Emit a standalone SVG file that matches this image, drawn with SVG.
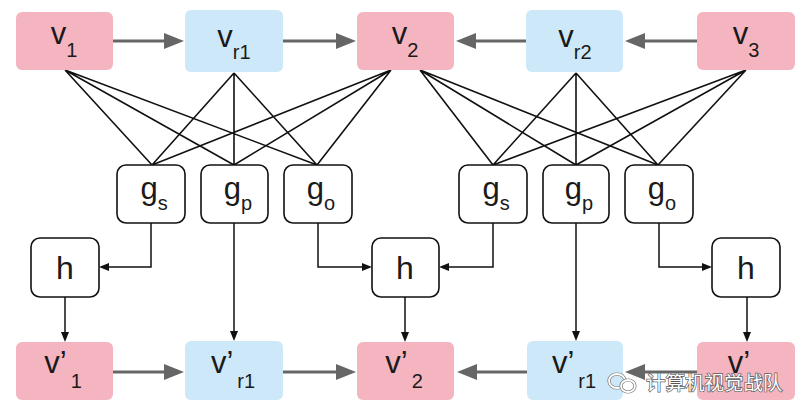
<svg xmlns="http://www.w3.org/2000/svg" width="808" height="416" viewBox="0 0 808 416">
<defs>
<style>
.pink{fill:#f4b4c0}
.blue{fill:#cde8f8}
.g{fill:#fff;stroke:#111;stroke-width:1.6}
.lbl{font-family:"Liberation Sans",Arial,sans-serif;font-size:31px;fill:#1a1a1a;text-anchor:middle}
.sub{font-size:20px}
.gsub{font-size:20px}
.fan{stroke:#111;stroke-width:1.6;fill:none}
.garrow{stroke:#666;stroke-width:3;fill:none;marker-end:url(#ga)}
.barrow{stroke:#111;stroke-width:1.5;fill:none;marker-end:url(#ba)}
.wm{font-family:"Noto Sans CJK SC","Liberation Sans",sans-serif;font-size:19.5px;fill:#fff;stroke:#5a5a5a;stroke-width:1.4;paint-order:stroke}
</style>
<marker id="ga" viewBox="0 0 20 16" refX="10" refY="8" markerWidth="20" markerHeight="16" markerUnits="userSpaceOnUse" orient="auto">
<path d="M0,0 L20,8 L0,16 z" fill="#666"/>
</marker>
<marker id="ba" viewBox="0 0 10 8" refX="5" refY="4" markerWidth="10" markerHeight="8" markerUnits="userSpaceOnUse" orient="auto">
<path d="M0,0 L10,4 L0,8 z" fill="#111"/>
</marker>
</defs>
<rect width="808" height="416" fill="#fff"/>

<g id="connectors">
<line class="garrow" x1="113" y1="41" x2="174" y2="41"/>
<line class="garrow" x1="283" y1="41" x2="346" y2="41"/>
<line class="garrow" x1="526" y1="41" x2="466" y2="41"/>
<line class="garrow" x1="697" y1="41" x2="635" y2="41"/>
<line class="garrow" x1="113" y1="372" x2="174" y2="372"/>
<line class="garrow" x1="283" y1="372" x2="346" y2="372"/>
<line class="garrow" x1="527" y1="372" x2="467" y2="372"/>
<line class="garrow" x1="697" y1="372" x2="635" y2="372"/>
<path class="fan" d="M65,70 L152,165 M65,70 L234,165 M65,70 L317,165 M234,73 L152,165 M234,73 L234,165 M234,73 L317,165 M391,70 L152,165 M391,70 L234,165 M391,70 L317,165"/>
<path class="fan" d="M420,70 L493,165 M420,70 L576,165 M420,70 L658,165 M576,73 L493,165 M576,73 L576,165 M576,73 L658,165 M746,70 L493,165 M746,70 L576,165 M746,70 L658,165"/>
<path class="barrow" d="M151,223 V267 H104"/>
<path class="barrow" d="M318,223 V267 H367"/>
<path class="barrow" d="M493,223 V267 H444"/>
<path class="barrow" d="M659,223 V267 H707"/>
<line class="barrow" x1="234" y1="223" x2="234" y2="336"/>
<line class="barrow" x1="576" y1="223" x2="576" y2="336"/>
<line class="barrow" x1="65" y1="297" x2="65" y2="337"/>
<line class="barrow" x1="405" y1="297" x2="405" y2="337"/>
<line class="barrow" x1="747" y1="297" x2="747" y2="337"/>
</g>

<g id="v1"><rect class="pink" x="16" y="12" width="97" height="58" rx="6"/><text class="lbl" x="64" y="44">v<tspan class="sub" dy="13">1</tspan></text></g>
<g id="vr1"><rect class="blue" x="185" y="10" width="98" height="62" rx="6"/><text class="lbl" x="234" y="47">v<tspan class="sub" dy="12">r1</tspan></text></g>
<g id="v2"><rect class="pink" x="357" y="12" width="97" height="58" rx="6"/><text class="lbl" x="405" y="44">v<tspan class="sub" dy="13">2</tspan></text></g>
<g id="vr2"><rect class="blue" x="526" y="10" width="97" height="62" rx="6"/><text class="lbl" x="575" y="47">v<tspan class="sub" dy="12">r2</tspan></text></g>
<g id="v3"><rect class="pink" x="697" y="12" width="98" height="58" rx="6"/><text class="lbl" x="746" y="44">v<tspan class="sub" dy="13">3</tspan></text></g>

<g id="gs1"><rect class="g" x="117" y="165" width="68" height="58" rx="9"/><text class="lbl" x="154" y="199">g<tspan class="gsub" dy="11">s</tspan></text></g>
<g id="gp1"><rect class="g" x="201" y="165" width="67" height="58" rx="9"/><text class="lbl" x="238" y="199">g<tspan class="gsub" dy="11">p</tspan></text></g>
<g id="go1"><rect class="g" x="284" y="165" width="68" height="58" rx="9"/><text class="lbl" x="321" y="199">g<tspan class="gsub" dy="11">o</tspan></text></g>
<g id="gs2"><rect class="g" x="459" y="165" width="68" height="58" rx="9"/><text class="lbl" x="496" y="199">g<tspan class="gsub" dy="11">s</tspan></text></g>
<g id="gp2"><rect class="g" x="543" y="165" width="66" height="58" rx="9"/><text class="lbl" x="579" y="199">g<tspan class="gsub" dy="11">p</tspan></text></g>
<g id="go2"><rect class="g" x="625" y="165" width="68" height="58" rx="9"/><text class="lbl" x="662" y="199">g<tspan class="gsub" dy="11">o</tspan></text></g>

<g id="h1"><rect class="g" x="31" y="238" width="68" height="59" rx="9"/><text class="lbl" x="65" y="279" style="font-size:32px">h</text></g>
<g id="h2"><rect class="g" x="372" y="238" width="67" height="59" rx="9"/><text class="lbl" x="405" y="279" style="font-size:32px">h</text></g>
<g id="h3"><rect class="g" x="712" y="238" width="68" height="59" rx="9"/><text class="lbl" x="746" y="279" style="font-size:32px">h</text></g>

<g id="vp1"><rect class="pink" x="16" y="342" width="97" height="58" rx="6"/><text class="lbl" x="63" y="373">v’<tspan class="sub" dx="4" dy="15">1</tspan></text></g>
<g id="vpr1"><rect class="blue" x="185" y="341" width="98" height="59" rx="6"/><text class="lbl" x="233" y="373">v’<tspan class="sub" dx="4" dy="15">r1</tspan></text></g>
<g id="vp2"><rect class="pink" x="357" y="342" width="97" height="58" rx="6"/><text class="lbl" x="404" y="373">v’<tspan class="sub" dx="4" dy="15">2</tspan></text></g>
<g id="vpr2"><rect class="blue" x="527" y="341" width="96" height="59" rx="6"/><text class="lbl" x="574" y="373">v’<tspan class="sub" dx="4" dy="15">r1</tspan></text></g>
<g id="vp3"><rect class="pink" x="697" y="342" width="98" height="58" rx="6"/><text class="lbl" x="739" y="373">v’</text></g>

<g id="watermark">
<ellipse cx="617" cy="381" rx="8" ry="7" fill="none" stroke="#777" stroke-width="3.2"/>
<ellipse cx="617" cy="381" rx="8" ry="7" fill="none" stroke="#fff" stroke-width="1.8"/>
<ellipse cx="628" cy="386" rx="7" ry="6" fill="#fff" stroke="#777" stroke-width="3.2"/>
<ellipse cx="628" cy="386" rx="7" ry="6" fill="none" stroke="#fff" stroke-width="1.8"/>
<text class="wm" x="646" y="390">计算机视觉战队</text>
</g>
</svg>
